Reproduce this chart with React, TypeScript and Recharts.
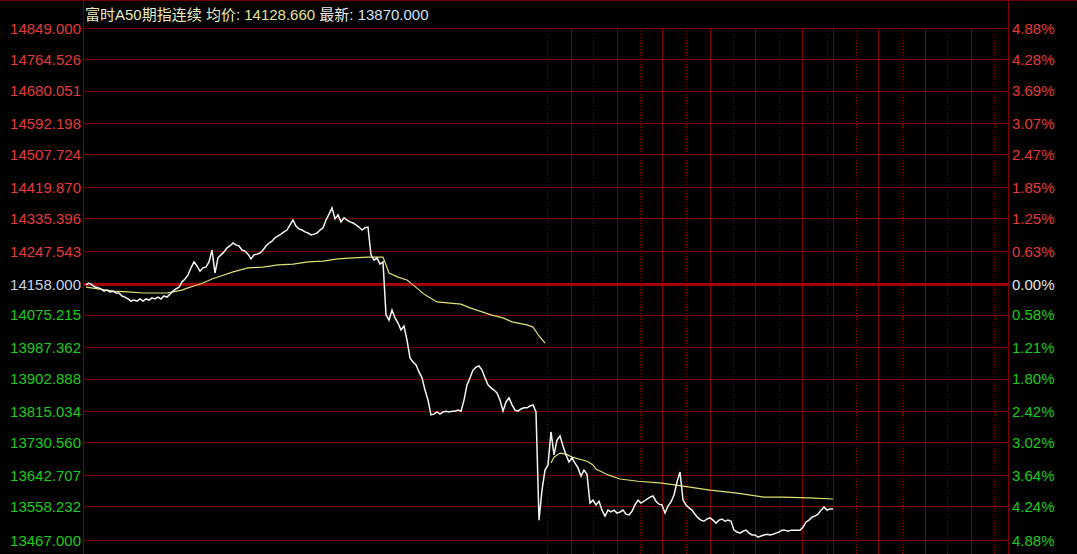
import { LineChart, Line, XAxis, YAxis, CartesianGrid, ReferenceLine } from "recharts";

// previous settlement, the zero line of the percentage scale
const PREV_CLOSE = 14158;

const TITLE_NAME = "富时A50期指连续";
const AVG_LABEL = "均价:";
const AVG_VALUE = "14128.660";
const LAST_LABEL = "最新:";
const LAST_VALUE = "13870.000";

const priceTicks = [
  14849.0, 14764.526, 14680.051, 14592.198, 14507.724, 14419.87, 14335.396, 14247.543, 14158.0,
  14075.215, 13987.362, 13902.888, 13815.034, 13730.56, 13642.707, 13558.232, 13467.0,
];

// last price per time slot, slots 1..250
const price = [
  14157, 14162, 14157, 14151, 14149, 14146, 14140, 14143, 14138, 14140,
  14135, 14135, 14127, 14124, 14119, 14113, 14116, 14113, 14119, 14113,
  14119, 14116, 14122, 14119, 14124, 14119, 14127, 14124, 14132, 14140,
  14146, 14151, 14165, 14173, 14184, 14203, 14219, 14208, 14194, 14203,
  14205, 14219, 14251, 14189, 14230, 14238, 14246, 14257, 14262, 14270,
  14265, 14262, 14251, 14248, 14240, 14227, 14238, 14240, 14243, 14251,
  14262, 14270, 14275, 14284, 14289, 14294, 14300, 14305, 14319, 14332,
  14316, 14308, 14305, 14300, 14297, 14292, 14294, 14297, 14305, 14311,
  14332, 14348, 14365, 14335, 14346, 14327, 14338, 14332, 14327, 14324,
  14319, 14313, 14305, 14311, 14313, 14238, 14224, 14230, 14213, 14219,
  14076, 14062, 14089, 14068, 14054, 14035, 14046, 14008, 13960, 13949,
  13941, 13922, 13906, 13873, 13846, 13806, 13808, 13814, 13808, 13814,
  13816, 13814, 13816, 13816, 13819, 13816, 13846, 13887, 13906, 13927,
  13935, 13938, 13927, 13906, 13887, 13879, 13873, 13865, 13846, 13816,
  13841, 13852, 13833, 13819, 13816, 13822, 13825, 13825, 13830, 13833,
  13814, 13522, 13603, 13657, 13671, 13760, 13698, 13738, 13749, 13722,
  13698, 13679, 13690, 13676, 13663, 13641, 13657, 13646, 13568, 13576,
  13563, 13573, 13549, 13533, 13549, 13544, 13549, 13541, 13544, 13549,
  13538, 13536, 13546, 13563, 13576, 13568, 13573, 13579, 13584, 13587,
  13573, 13565, 13563, 13541, 13560, 13571, 13590, 13625, 13652, 13576,
  13563, 13555, 13549, 13538, 13528, 13522, 13519, 13525, 13528, 13522,
  13514, 13522, 13525, 13519, 13522, 13519, 13495, 13490, 13487, 13492,
  13495, 13487, 13482, 13482, 13476, 13479, 13482, 13484, 13482, 13484,
  13487, 13490, 13495, 13495, 13492, 13495, 13495, 13495, 13495, 13503,
  13517, 13522, 13530, 13533, 13538, 13549, 13557, 13549, 13552, 13552,
];

// average price, first session
const avgSlots1 = [
  1, 5, 10, 15, 20, 25, 28, 30, 33, 35, 37, 40, 43, 46, 50, 55, 60, 65, 70, 75, 80, 85, 90, 95, 100,
  102, 105, 108, 110, 114, 118, 126, 129, 133, 136, 140, 143, 148, 150, 152, 154,
];
const avg1 = [
  14151, 14146, 14140, 14138, 14135, 14135, 14135, 14138, 14143, 14149, 14154, 14162, 14173, 14181,
  14192, 14203, 14205, 14211, 14213, 14219, 14221, 14227, 14230, 14232, 14232,
  14189, 14178, 14170, 14157, 14130, 14111, 14105, 14095, 14084, 14076, 14068, 14057, 14049, 14043,
  14019, 14000,
];

// average price, second session
const avgSlots2 = [156, 157, 159, 161, 163, 168, 170, 171, 175, 179, 185, 193, 200, 209, 218, 227, 233, 242, 250];
const avg2 = [
  13676, 13692, 13703, 13700, 13692, 13681, 13671, 13660, 13644, 13633, 13627, 13622, 13614, 13603,
  13595, 13584, 13584, 13582, 13579,
];

// time grid (slots)
const SLOT_COUNT = 308.33;
const hourMarks = [162.67, 178, 193.33, 209, 224.33, 239.67, 250, 265.33, 280.67, 296];
const halfHourMarks = [154.67, 170, 185.67, 201, 216.67, 232, 248, 257.67, 273, 288.33, 303.67];

const rows: Record<string, number>[] = price.map((p, i) => ({ t: i + 1, price: p }));
avgSlots1.forEach((t, i) => { rows[t - 1].avg1 = avg1[i]; });
avgSlots2.forEach((t, i) => { rows[t - 1].avg2 = avg2[i]; });

const W = 1077;
const H = 554;
const TOP = 28.5;
const PLOT_H = 512;
const Y_MAX = priceTicks[0];
const Y_MIN = priceTicks[priceTicks.length - 1];
// the grid carries on below the last tick down to the window edge
const Y_FLOOR = Y_MIN - ((Y_MAX - Y_MIN) * (H - TOP - PLOT_H)) / PLOT_H;

const RED = "#e33b3b";
const GREEN = "#1ccb1c";
const GRID = "#7c0000";
const FONT = '"Liberation Sans", Arial, sans-serif';

const tickColor = (v: number, flat: string) =>
  v > PREV_CLOSE + 0.5 ? RED : v < PREV_CLOSE - 0.5 ? GREEN : flat;

const LeftTick = (props: any) => {
  const { x, y, payload } = props;
  return (
    <text x={x} y={y} dy="0.355em" textAnchor="end" fontSize={15} fontFamily={FONT}
      fill={tickColor(payload.value, "#c9d3e8")}>
      {payload.value.toFixed(3)}
    </text>
  );
};

const RightTick = (props: any) => {
  const { x, y, payload } = props;
  const pct = (Math.abs(payload.value - PREV_CLOSE) / PREV_CLOSE) * 100;
  return (
    <text x={x} y={y} dy="0.355em" textAnchor="start" fontSize={15} fontFamily={FONT}
      fill={tickColor(payload.value, "#e6e6e6")}>
      {pct.toFixed(2) + "%"}
    </text>
  );
};

export default function App() {
  return (
    <div style={{ position: "fixed", left: 0, top: 0, width: W, height: H, background: "#000", overflow: "hidden" }}>
      <LineChart width={W} height={H} data={rows} margin={{ top: TOP, right: 0, bottom: 0, left: 0 }}>
        <XAxis type="number" dataKey="t" domain={[0, SLOT_COUNT]} hide allowDataOverflow />
        <YAxis yAxisId="l" orientation="left" width={83} domain={[Y_FLOOR, Y_MAX]} ticks={priceTicks}
          allowDataOverflow interval={0} axisLine={false} tickLine={false} tickSize={0} tickMargin={2}
          tick={<LeftTick />} />
        <YAxis yAxisId="r" orientation="right" width={69} domain={[Y_FLOOR, Y_MAX]} ticks={priceTicks}
          allowDataOverflow interval={0} axisLine={false} tickLine={false} tickSize={0} tickMargin={4}
          tick={<RightTick />} />
        <CartesianGrid yAxisId="l" vertical={false} stroke={GRID} strokeDasharray="" shapeRendering="crispEdges" />
        {halfHourMarks.map((t) => (
          <ReferenceLine key={"h" + t} yAxisId="l" x={t} stroke="#8a0000" strokeDasharray="1 2"
            shapeRendering="crispEdges" />
        ))}
        {hourMarks.map((t) => (
          <ReferenceLine key={"s" + t} yAxisId="l" x={t} stroke={GRID} shapeRendering="crispEdges" />
        ))}
        <ReferenceLine yAxisId="l" y={PREV_CLOSE} stroke="#a30000" strokeWidth={3} />
        <Line yAxisId="l" dataKey="avg1" stroke="#dede72" strokeWidth={1.2} dot={false}
          connectNulls isAnimationActive={false} />
        <Line yAxisId="l" dataKey="avg2" stroke="#dede72" strokeWidth={1.2} dot={false}
          connectNulls isAnimationActive={false} />
        <Line yAxisId="l" dataKey="price" stroke="#f4f4f4" strokeWidth={1.5} dot={false}
          isAnimationActive={false} />
      </LineChart>
      <div style={{ position: "absolute", left: 0, top: 0, width: W, height: 1, background: "#6a0000" }} />
      <div style={{ position: "absolute", left: 83, top: 0, width: 1, height: H, background: GRID }} />
      <div style={{ position: "absolute", left: 1008, top: 0, width: 1, height: H, background: GRID }} />
      <div style={{ position: "absolute", left: 85, top: 7, fontSize: 15, lineHeight: "15px", whiteSpace: "nowrap",
        fontFamily: '"Liberation Sans", Arial, "Noto Sans CJK SC", sans-serif' }}>
        <span style={{ color: "#ecebbd" }}>{TITLE_NAME} {AVG_LABEL} </span>
        <span style={{ color: "#e4e39a" }}>{AVG_VALUE} </span>
        <span style={{ color: "#e8e8e8" }}>{LAST_LABEL} </span>
        <span style={{ color: "#d4e0f2" }}>{LAST_VALUE}</span>
      </div>
    </div>
  );
}
